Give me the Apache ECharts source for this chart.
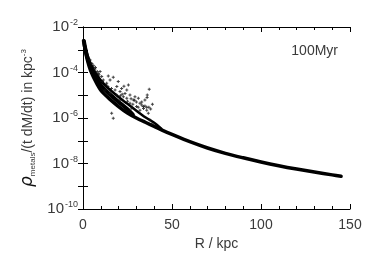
<!DOCTYPE html>
<html>
<head>
<meta charset="utf-8">
<script src="https://cdn.jsdelivr.net/npm/echarts@6/dist/echarts.min.js"></script>
<style>html,body{margin:0;padding:0;background:#fff}#c{width:374px;height:262px}</style>
</head>
<body>
<div id="c"></div>
<script>
// X tick labels (kpc) and Y tick exponents
var xTickLabels = [0, 50, 100, 150];
var yTickExps = [-10, -8, -6, -4, -2];
var panelLabel = '100Myr';

// Lower (main) thick curve
var lowerR = [0.3,0.5,1,2,3,4,5,6,8,10,12,15,20,25,30,35,40,45,50,60,70,80,90,100,110,120,130,140,145];
var lowerV = [2.5e-3,2.24e-3,1.26e-3,5.0e-4,2.5e-4,1.41e-4,8.9e-5,6.0e-5,3.0e-5,1.66e-5,1.12e-5,6.8e-6,3.2e-6,1.66e-6,1.0e-6,6.5e-7,4.3e-7,2.8e-7,1.9e-7,9.1e-8,4.8e-8,2.8e-8,1.78e-8,1.17e-8,8.0e-9,5.7e-9,4.2e-9,3.16e-9,2.75e-9];

// Middle of the inner band
var midR = [0.5,1,2,3,4,5,6,8,10,12,15,20,25,28];
var midV = [2.4e-3,1.45e-3,6.3e-4,3.3e-4,2.0e-4,1.32e-4,8.9e-5,4.8e-5,2.75e-5,1.86e-5,1.1e-5,5.1e-6,2.4e-6,1.4e-6];

// Upper edge of the inner band
var upperR = [0.5,1,2,3,4,5,6,8,10,12,15,20,25,30,35,40,44];
var upperV = [2.5e-3,1.66e-3,7.9e-4,4.5e-4,2.8e-4,1.9e-4,1.35e-4,7.6e-5,4.5e-5,3.0e-5,1.78e-5,8.3e-6,4.2e-6,2.1e-6,1.08e-6,6.2e-7,3.4e-7];

// Scattered particles
var scatR = [6.7,8.6,11.4,15.2,17,19.8,13.3,18,20.8,23.6,26.4,24.6,28.3,32,34.8,37.2,36.1,33.9,35.8,30.1,27.4,32,36.7,37.6,38.6,17,16.1,21.7,24.6,25.5,22.7,20.8,29.2,31.1,33,34.8,35.8,26.4,10.5,9.6,14.2,18.9,15.2,12.4,5,7,8,9,11,13,14,16,4,6,22,27,30,38,39,36,23,28,31,34,29,25,19,21,33,37];
var scatV = [1.41e-4,9.1e-5,4.7e-5,4.7e-5,6.2e-5,4.0e-5,3.4e-5,1.7e-5,1.45e-5,1.2e-5,1.02e-5,7.4e-6,6.2e-6,4.5e-6,6.2e-6,1.82e-5,1.02e-5,3.2e-6,2.95e-6,3.2e-6,2.7e-6,2.2e-6,1.62e-6,8.1e-7,5.5e-7,9.8e-7,1.62e-6,2.0e-5,1.7e-5,2.8e-5,8.7e-6,6.2e-6,8.7e-6,7.4e-6,3.7e-6,3.4e-6,2.2e-6,4.5e-6,6.6e-5,1.1e-4,7.1e-5,1.02e-5,1.2e-5,1.7e-5,2.5e-4,1.66e-4,1.12e-4,7.9e-5,4.0e-5,2.8e-5,2.4e-5,2.0e-5,3.5e-4,2.0e-4,1.12e-5,7.1e-6,5.0e-6,2.5e-6,4.0e-6,7.9e-6,2.5e-5,4.0e-6,3.0e-6,2.6e-6,6.0e-6,5.5e-6,2.4e-5,9.5e-6,5.0e-6,3.0e-6];

function zip(a, b) { return a.map(function (v, i) { return [v, b[i]]; }); }

var txt = '#3a3a3a';
var fontFam = 'Liberation Sans, Arial, sans-serif';

function yFmt(v) {
  var e = Math.round(Math.log10(v));
  if (yTickExps.indexOf(e) < 0) return '';
  return '{b|10}{s|' + e + '}';
}
function xFmt(v) {
  return xTickLabels.indexOf(Math.round(v)) >= 0 ? String(Math.round(v)) : '';
}

var axLine = { show: true, lineStyle: { color: '#000', width: 1 } };

var chart = echarts.init(document.getElementById('c'), null, { renderer: 'canvas' });
chart.setOption({
  animation: false,
  backgroundColor: '#fff',
  grid: { left: 83, right: 24, top: 27, bottom: 53 },
  xAxis: [{
    type: 'value', min: 0, max: 150, interval: 50, position: 'bottom',
    axisLine: axLine,
    axisTick: { show: true, inside: true, length: 5, lineStyle: { color: '#000' } },
    minorTick: { show: true, splitNumber: 5, length: 3, lineStyle: { color: '#000' } },
    splitLine: { show: false },
    axisLabel: { formatter: xFmt, color: txt, fontSize: 14, fontFamily: fontFam, margin: 9 },
    name: 'R / kpc', nameLocation: 'middle', nameGap: 27,
    nameTextStyle: { color: txt, fontSize: 14, fontFamily: fontFam }
  }, {
    type: 'value', min: 0, max: 150, interval: 50, position: 'top',
    axisLine: axLine,
    axisTick: { show: true, inside: true, length: 5, lineStyle: { color: '#000' } },
    minorTick: { show: true, splitNumber: 5, length: 3, lineStyle: { color: '#000' } },
    splitLine: { show: false }, axisLabel: { show: false }
  }],
  yAxis: [{
    type: 'log', logBase: 10, min: 1e-10, max: 1e-2, splitNumber: 8, position: 'left',
    axisLine: axLine,
    axisTick: { show: true, inside: true, length: 5, lineStyle: { color: '#000' } },
    splitLine: { show: false },
    axisLabel: {
      formatter: yFmt, margin: 5, fontFamily: fontFam,
      rich: {
        b: { fontSize: 15, color: txt, fontFamily: fontFam },
        s: { fontSize: 9, color: txt, fontFamily: fontFam, verticalAlign: 'top', padding: [0, 0, 8, 1] }
      }
    },
    name: '{r|ρ}{sub|metals}{t|/(t dM/dt) in kpc}{sup|-3}',
    nameLocation: 'middle', nameRotate: 90, nameGap: 46,
    nameTextStyle: {
      rich: {
        r: { fontSize: 17, fontStyle: 'italic', color: '#111', fontFamily: 'DejaVu Sans, sans-serif' },
        sub: { fontSize: 8, color: txt, fontFamily: fontFam, verticalAlign: 'bottom', padding: [6, 0, 0, 0] },
        t: { fontSize: 14, color: txt, fontFamily: fontFam },
        sup: { fontSize: 8, color: txt, fontFamily: fontFam, verticalAlign: 'top', padding: [0, 0, 8, 0] }
      }
    }
  }, {
    type: 'log', logBase: 10, min: 1e-10, max: 1e-2, splitNumber: 8, position: 'right',
    axisLine: axLine,
    axisTick: { show: true, inside: true, length: 5, lineStyle: { color: '#000' } },
    splitLine: { show: false }, axisLabel: { show: false }
  }],
  graphic: [{
    type: 'text', right: 36, top: 44,
    style: { text: panelLabel, fill: txt, fontSize: 14, fontFamily: fontFam }
  }],
  series: [
    { type: 'line', data: zip(upperR, upperV), showSymbol: false, smooth: 0.3, lineStyle: { color: '#000', width: 2.5, join: 'round', cap: 'round' }, z: 3 },
    { type: 'line', data: zip(midR, midV), showSymbol: false, smooth: 0.3, lineStyle: { color: '#000', width: 4, join: 'round', cap: 'round' }, z: 3 },
    { type: 'line', data: zip(lowerR, lowerV), showSymbol: false, smooth: 0.3, lineStyle: { color: '#000', width: 3.5, join: 'round', cap: 'round' }, z: 3 },
    { type: 'scatter', data: zip(scatR, scatV), symbol: 'path://M1,0h1v1h1v1h-1v1h-1v-1h-1v-1h1z', symbolSize: 3,
      itemStyle: { color: '#111' }, z: 4 }
  ]
});
</script>
</body>
</html>
